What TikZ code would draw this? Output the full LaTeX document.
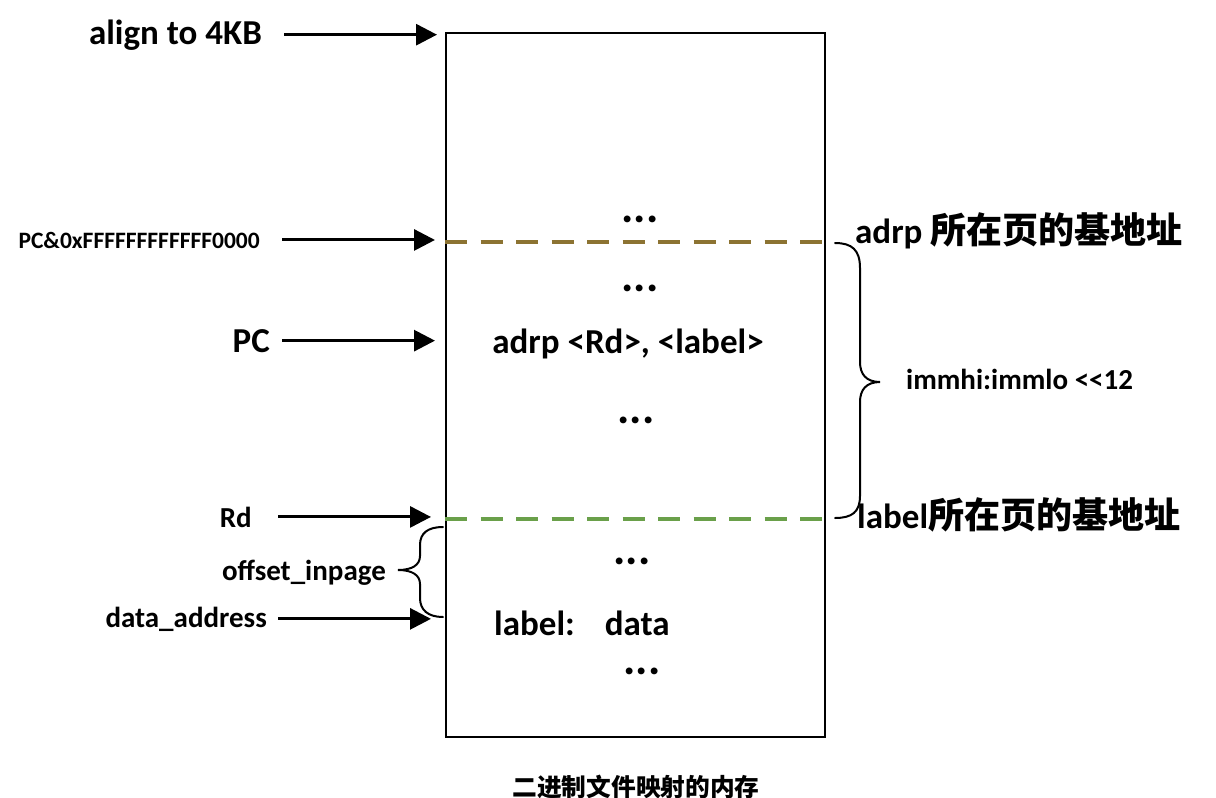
\documentclass[tikz,border=0pt]{standalone}
\usepackage{fontspec}
\setmainfont{Carlito}
\newfontfamily\cjk{Noto Sans CJK SC}[Scale=1.03]
\usetikzlibrary{arrows.meta}
\newcommand{\szA}{\fontsize{35}{42}\selectfont\bfseries}
\newcommand{\szB}{\fontsize{29}{35}\selectfont\bfseries}
\newcommand{\szC}{\fontsize{23.5}{28}\selectfont\bfseries}
\newcommand{\szD}{\fontsize{24}{29}\selectfont\bfseries}
\newcommand{\szE}{\fontsize{46}{50}\selectfont\bfseries}
\definecolor{pagebrown}{RGB}{140,115,50}
\definecolor{pagegreen}{RGB}{106,160,74}
\begin{document}
\begin{tikzpicture}[x=1pt, y=-1pt, >={Triangle[length=21pt,width=21pt]},
	lbl/.style={inner sep=0pt, font=\szB},
	gap/.style={inner sep=0pt, font=\szE, anchor=base},
	ptr/.style={->, line width=3pt},
	pageline/.style={line width=3.5pt, dash pattern=on 22pt off 13.5pt},
	brace/.style={line width=2pt, line cap=round}]
\useasboundingbox (0,0) rectangle (1216,798);

% memory block
\node[draw, line width=2pt, minimum width=379pt, minimum height=704pt, inner sep=0pt] (mem) at (635.5,385) {};
\coordinate (pgA) at (0,242);  \coordinate (pgL) at (0,519);
\draw[pageline, pagebrown](mem.west |- pgA)--(mem.east |- pgA);
\draw[pageline, pagegreen](mem.west |- pgL)--(mem.east |- pgL);

\node[gap] (dots1) at (640,222) {...};
\node[gap] (dots2) at (640,291) {...};
\node[lbl, font=\szA, anchor=base] (adrp) at (628,353) {adrp <Rd>, <label>};
\node[gap] (dots3) at (636,423) {...};
\node[gap] (dots4) at (632,564) {...};
\node[lbl, font=\szA, anchor=base west] (ldata) at (494,635) {label:\hspace{30pt}data};
\node[gap] (dots5) at (642,674) {...};

% left side
\node[lbl, font=\szA, anchor=base east] (align) at (262,44) {align to 4KB};
\node[lbl, font=\szC, anchor=base east] (pcmask) at (260,248) {PC\&0xFFFFFFFFFFFF0000};
\node[lbl, font=\szA, anchor=base east] (pc) at (270,352) {PC};
\node[lbl, anchor=base east] (rd) at (252,527) {Rd};
\node[lbl, anchor=base east] (off) at (386,580) {offset\_inpage};
\node[lbl, anchor=base east] (daddr) at (267,627) {data\_address};

\draw[ptr, shorten <=22pt, shorten >=8pt](align.east)--(align.east -| mem.west);
\draw[ptr, shorten <=22pt, shorten >=10pt](pcmask.east)--(pcmask.east -| mem.west);
\draw[ptr, shorten <=12pt, shorten >=10pt](pc.east)--(pc.east -| mem.west);
\draw[ptr, shorten <=26pt, shorten >=14pt](rd.east)--(rd.east -| mem.west);
\draw[ptr, shorten <=11pt, shorten >=14pt](daddr.east)--(daddr.east -| mem.west);

\draw[brace](443,527) .. controls (428,527) and (420,533) .. (420,545)--(420,556)
	.. controls (420,565) and (412,570) .. (398,570) .. controls (412,570) and (420,575) .. (420,584)
	--(420,598) .. controls (420,610) and (428,617) .. (443,617);

% right side
\node[lbl, font=\szA, anchor=base west] (adrppage) at (855,243) {adrp {\cjk 所在页的基地址}};
\node[lbl, anchor=base west] (imm) at (906,389) {immhi:immlo <\kern0pt<12};
\node[lbl, font=\szA, anchor=base west] (lblpage) at (857,528) {label{\cjk 所在页的基地址}};

\draw[brace](835,243) .. controls (852,243) and (860,250) .. (860,268)--(860,362)
	.. controls (860,374) and (866,382) .. (880,382) .. controls (866,382) and (860,390) .. (860,402)
	--(860,496) .. controls (860,512) and (852,518) .. (835,518);

\node[lbl, font=\szD] (cap) at (636,787) {\cjk 二进制文件映射的内存};
\end{tikzpicture}
\end{document}
